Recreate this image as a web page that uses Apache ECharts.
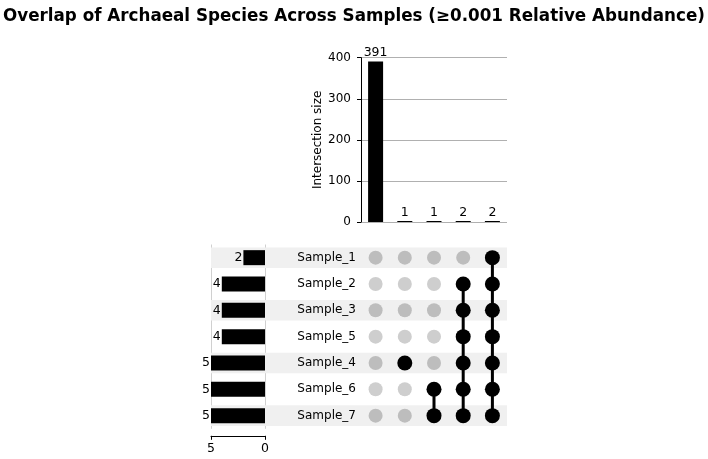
<!DOCTYPE html>
<html>
<head>
<meta charset="utf-8">
<script src="https://cdn.jsdelivr.net/npm/echarts@6/dist/echarts.min.js"></script>
<style>
  html, body { margin: 0; padding: 0; background: #fff; }
  #chart { width: 708px; height: 459px; }
</style>
</head>
<body>
<div id="chart"></div>
<script>
// sets, top to bottom
const sets = ['Sample_1', 'Sample_2', 'Sample_3', 'Sample_5', 'Sample_4', 'Sample_6', 'Sample_7'];
const setSizes = [2, 4, 4, 4, 5, 5, 5];

// intersections, left to right
const columns = ['c1', 'c2', 'c3', 'c4', 'c5'];
const intersectionSizes = [391, 1, 1, 2, 2];
const members = [
  [],
  ['Sample_4'],
  ['Sample_6', 'Sample_7'],
  ['Sample_2', 'Sample_3', 'Sample_5', 'Sample_4', 'Sample_6', 'Sample_7'],
  ['Sample_1', 'Sample_2', 'Sample_3', 'Sample_5', 'Sample_4', 'Sample_6', 'Sample_7']
];

const FONT = 'DejaVu Sans';
const stripeLeft = 211;

const chart = echarts.init(document.getElementById('chart'));

// dots for the matrix
const greyDots = [];
const blackDots = [];
columns.forEach((c, i) => {
  sets.forEach((s, j) => {
    if (members[i].includes(s)) blackDots.push([c, s]);
    else greyDots.push({ value: [c, s], itemStyle: { color: j % 2 === 0 ? '#bdbdbd' : '#cecece', opacity: 1 } });
  });
});

// connector lines per column
const connectors = [];
columns.forEach((c, i) => {
  if (members[i].length < 2) return;
  const idx = members[i].map(s => sets.indexOf(s));
  const lo = Math.min(...idx), hi = Math.max(...idx);
  connectors.push({
    type: 'line',
    xAxisIndex: 1, yAxisIndex: 1,
    data: [[c, sets[lo]], [c, sets[hi]]],
    symbol: 'none',
    lineStyle: { color: '#000', width: 3 },
    z: 3,
    silent: true
  });
});

const option = {
  backgroundColor: '#fff',
  animation: false,
  title: {
    text: 'Overlap of Archaeal Species Across Samples (\u22650.001 Relative Abundance)',
    left: 'center',
    top: 3,
    textStyle: { fontFamily: FONT, fontSize: 16.75, fontWeight: 'bold', color: '#000' }
  },
  grid: [
    { left: 361, top: 57.7, width: 146, height: 164.3 },
    { left: 361, top: 244.5, width: 146, height: 184.3 },
    { left: 211, top: 244.5, width: 54, height: 184.3 }
  ],
  xAxis: [
    {
      gridIndex: 0, type: 'category', data: columns,
      axisLine: { show: false }, axisTick: { show: false }, axisLabel: { show: false }
    },
    {
      gridIndex: 1, type: 'category', data: columns,
      axisLine: { show: false }, axisTick: { show: false }, axisLabel: { show: false }
    },
    {
      gridIndex: 2, type: 'value', inverse: true, min: 0, max: 5, interval: 5,
      position: 'bottom', offset: 7,
      axisLine: { show: true, lineStyle: { color: '#000', width: 1 } },
      axisTick: { show: true, length: 4, lineStyle: { color: '#000' } },
      axisLabel: { fontFamily: FONT, fontSize: 12.5, color: '#000', margin: 6 },
      splitLine: { show: true, lineStyle: { color: '#d0d0d0', width: 1 } }
    }
  ],
  yAxis: [
    {
      gridIndex: 0, type: 'value', min: 0, max: 400, interval: 100,
      name: 'Intersection size', nameLocation: 'middle', nameGap: 37,
      nameTextStyle: { fontFamily: FONT, fontSize: 12, color: '#000' },
      axisLine: { show: true, lineStyle: { color: '#000', width: 1 } },
      axisTick: { show: true, length: 4, lineStyle: { color: '#000' } },
      axisLabel: { fontFamily: FONT, fontSize: 12, color: '#000', margin: 10 },
      splitLine: { show: true, lineStyle: { color: '#b0b0b0', width: 1 } }
    },
    {
      gridIndex: 1, type: 'category', data: sets, inverse: true,
      axisLine: { show: false }, axisTick: { show: false },
      axisLabel: { fontFamily: FONT, fontSize: 12, color: '#000', margin: 5 }
    },
    {
      gridIndex: 2, type: 'category', data: sets, inverse: true,
      axisLine: { show: false }, axisTick: { show: false }, axisLabel: { show: false }
    }
  ],
  series: [
    {
      type: 'bar',
      xAxisIndex: 0, yAxisIndex: 0,
      data: intersectionSizes,
      barWidth: 15,
      barMinHeight: 1,
      itemStyle: { color: '#000' },
      label: { show: true, position: 'top', distance: 2, fontFamily: FONT, fontSize: 12.5, color: '#000' },
      z: 3
    },
    {
      // row stripes
      type: 'custom',
      xAxisIndex: 1, yAxisIndex: 1,
      data: sets.map((s, j) => [j, s]),
      clip: false,
      silent: true,
      z: 0,
      renderItem: function (params, api) {
        const j = api.value(0);
        if (j % 2 !== 0) return null;
        const cy = api.coord([columns[0], sets[j]])[1];
        const rowH = api.size([0, 1])[1];
        const h = rowH * 0.78;
        const right = params.coordSys.x + params.coordSys.width;
        return {
          type: 'rect',
          shape: { x: stripeLeft, y: cy - h / 2, width: right - stripeLeft, height: h },
          style: { fill: '#f0f0f0' }
        };
      },
      encode: { y: 1 }
    },
    {
      type: 'scatter',
      xAxisIndex: 1, yAxisIndex: 1,
      data: greyDots,
      symbolSize: 14,
      z: 2,
      silent: true
    },
    ...connectors,
    {
      type: 'scatter',
      xAxisIndex: 1, yAxisIndex: 1,
      data: blackDots,
      symbolSize: 15,
      itemStyle: { color: '#000', opacity: 1 },
      z: 4,
      silent: true
    },
    {
      type: 'bar',
      xAxisIndex: 2, yAxisIndex: 2,
      data: setSizes,
      barWidth: 15,
      itemStyle: { color: '#000' },
      label: { show: true, position: 'left', distance: 1, fontFamily: FONT, fontSize: 12.5, color: '#000' },
      z: 3
    }
  ]
};

chart.setOption(option);
</script>
</body>
</html>
